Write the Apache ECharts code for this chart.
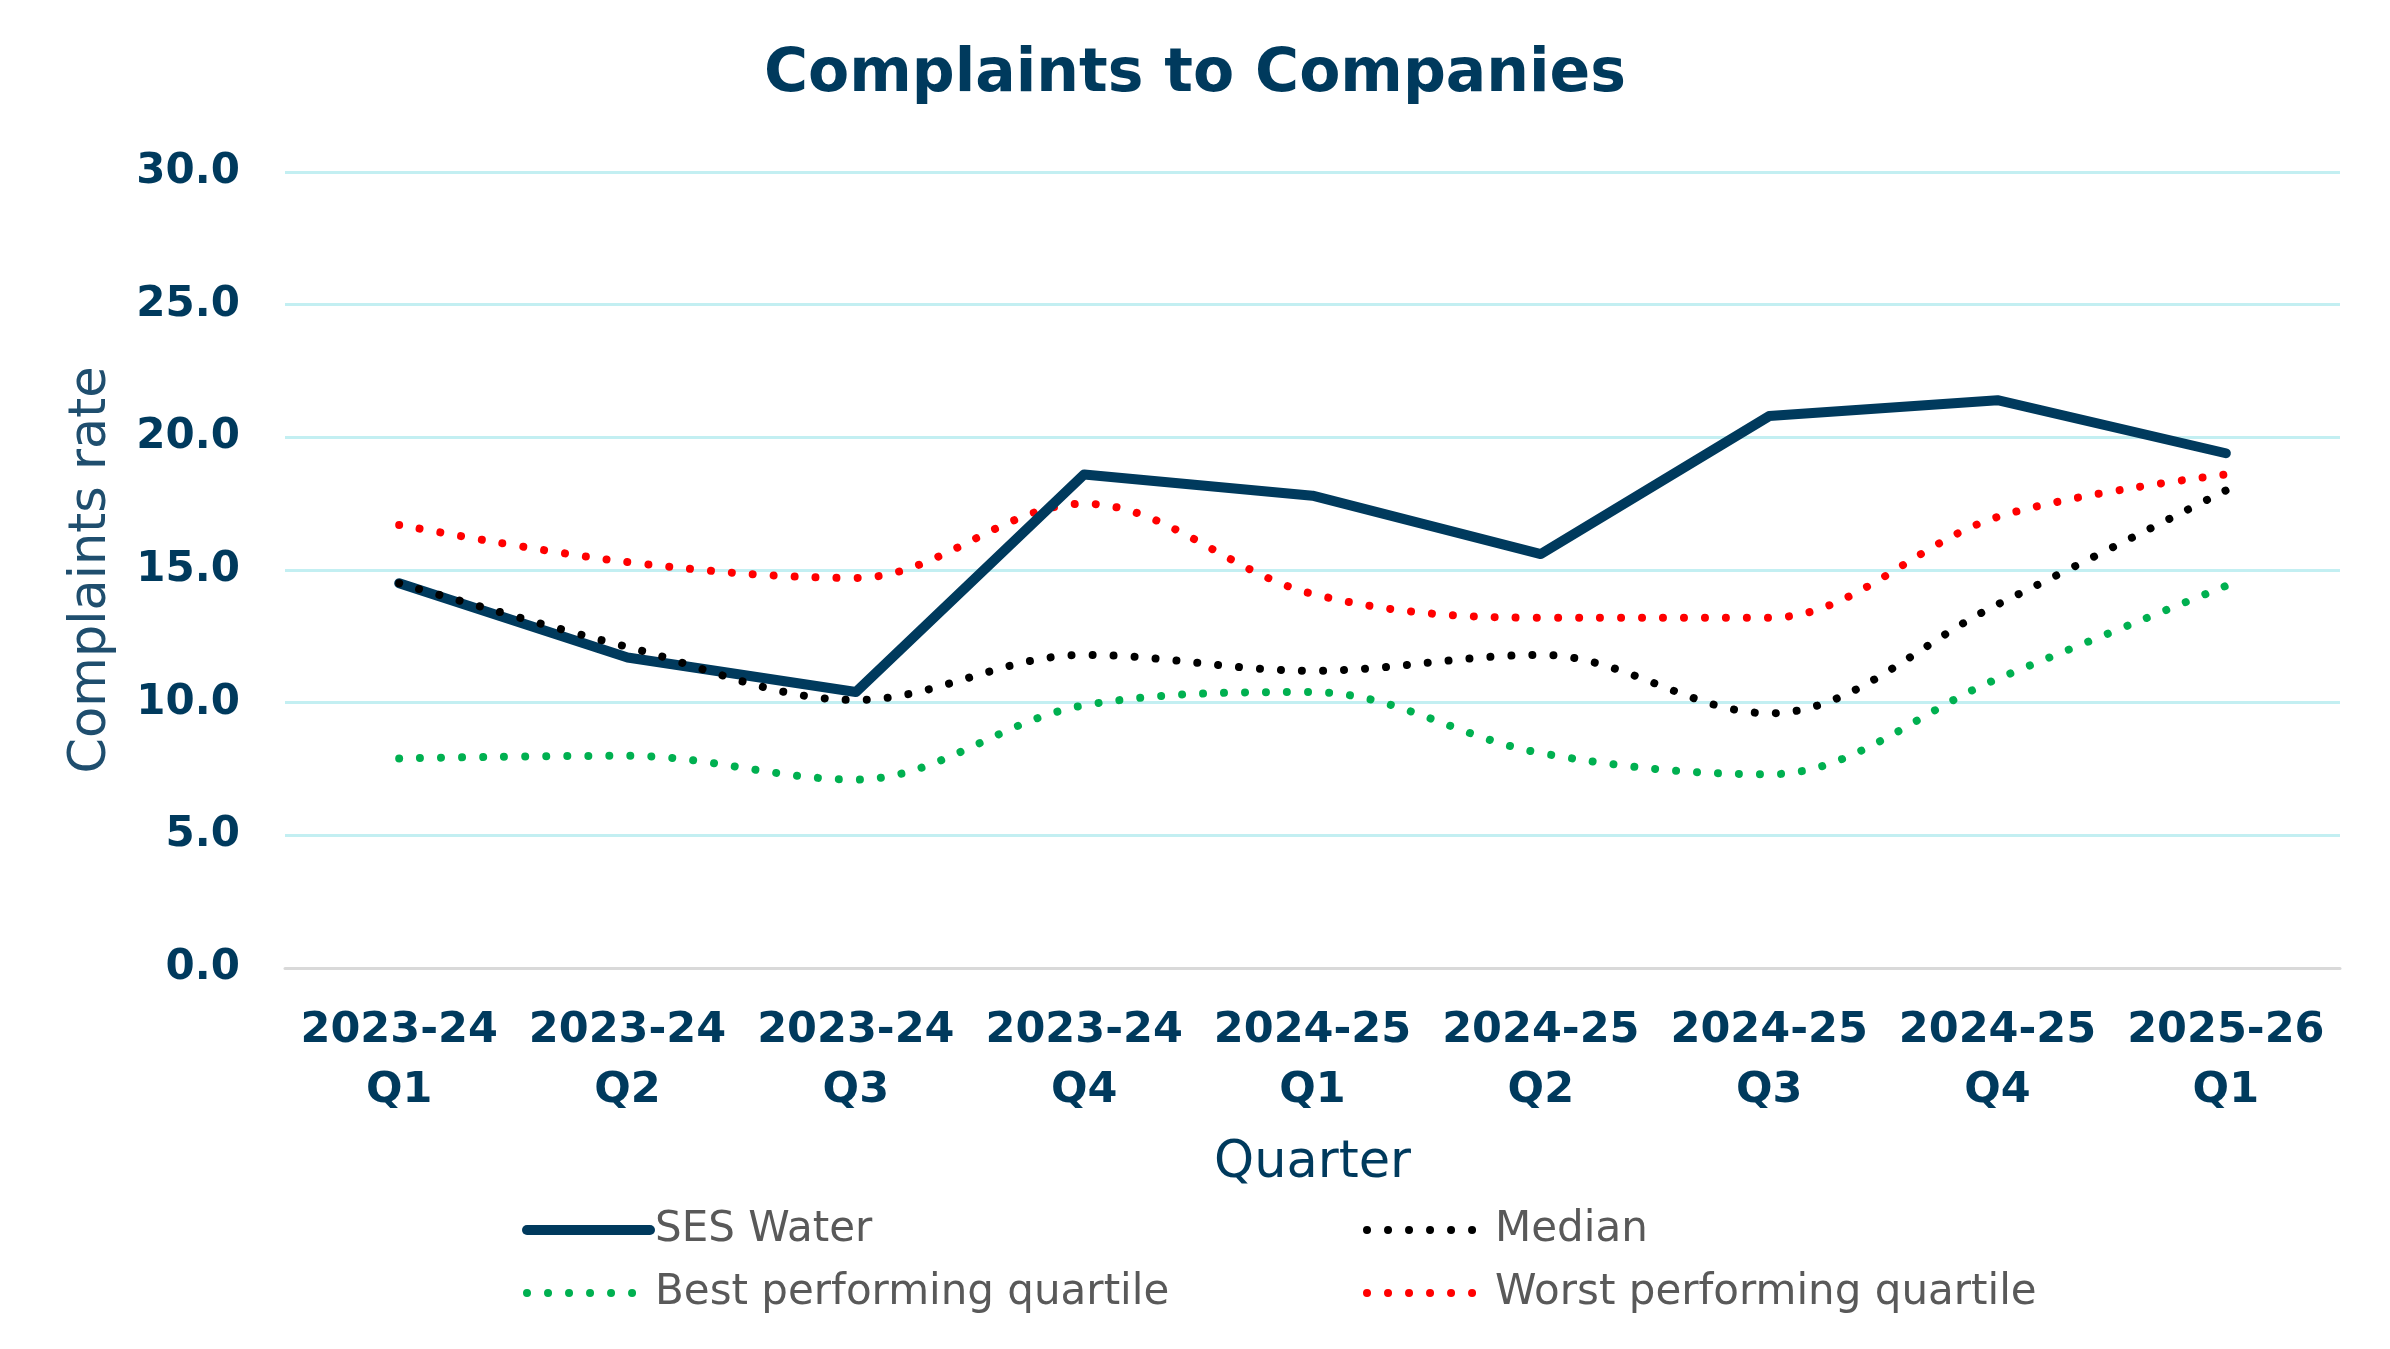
<!DOCTYPE html>
<html>
<head>
<meta charset="utf-8">
<script src="https://cdn.jsdelivr.net/npm/echarts@6/dist/echarts.min.js"></script>
<style>
html,body{margin:0;padding:0;background:#fff;}
#chart{width:2390px;height:1349px;}
</style>
</head>
<body>
<div id="chart"></div>
<script>
const categories = ['2023-24\nQ1','2023-24\nQ2','2023-24\nQ3','2023-24\nQ4','2024-25\nQ1','2024-25\nQ2','2024-25\nQ3','2024-25\nQ4','2025-26\nQ1'];
const sesWater = [14.5, 11.7, 10.4, 18.6, 17.8, 15.6, 20.8, 21.4, 19.4];
const median = [14.5, 12.1, 10.1, 11.8, 11.2, 11.8, 9.6, 13.7, 18.0];
const bestQuartile = [7.9, 8.0, 7.1, 9.9, 10.4, 8.1, 7.3, 10.9, 14.4];
const worstQuartile = [16.7, 15.3, 14.7, 17.5, 14.1, 13.2, 13.2, 17.0, 18.6];
const yTicks = {min: 0, max: 30, interval: 5};

const navy = '#003a5d';
const font = 'DejaVu Sans';
const dotStyle = (color) => ({color: color, width: 8, type: [0.01, 21], cap: 'round'});
const legendItem = (name, width) => ({name: name, itemStyle: {opacity: 0}, lineStyle: {width: width, cap: 'round'}});

const chart = echarts.init(document.getElementById('chart'));
chart.setOption({
  backgroundColor: '#ffffff',
  animation: false,
  title: {
    text: 'Complaints to Companies',
    left: 'center', top: 40,
    textStyle: {fontFamily: font, fontWeight: 'bold', fontSize: 60, color: navy}
  },
  grid: {left: 285, right: 50, top: 172, bottom: 381, containLabel: false},
  legend: [
    {
      orient: 'vertical', left: 517, top: 1202, itemWidth: 123, itemHeight: 20, itemGap: 17,
      data: [legendItem('SES Water', 10), legendItem('Best performing quartile', 8)],
      textStyle: {fontFamily: font, fontSize: 42, color: '#595959', lineHeight: 46}
    },
    {
      orient: 'vertical', left: 1358, top: 1202, itemWidth: 123, itemHeight: 20, itemGap: 17,
      data: [legendItem('Median', 8), legendItem('Worst performing quartile', 8)],
      textStyle: {fontFamily: font, fontSize: 42, color: '#595959', lineHeight: 46}
    }
  ],
  xAxis: {
    type: 'category', data: categories, boundaryGap: true,
    name: 'Quarter', nameLocation: 'middle', nameGap: 170,
    nameTextStyle: {fontFamily: font, fontSize: 51, color: navy},
    axisLine: {show: true, lineStyle: {color: '#d9d9d9', width: 3}},
    axisTick: {show: false},
    axisLabel: {fontFamily: font, fontWeight: 'bold', fontSize: 43, color: navy, lineHeight: 60, margin: 33, interval: 0}
  },
  yAxis: {
    type: 'value', min: yTicks.min, max: yTicks.max, interval: yTicks.interval,
    name: 'Complaints rate', nameLocation: 'middle', nameGap: 168, nameRotate: 90,
    nameTextStyle: {fontFamily: font, fontSize: 51, color: '#1f4e6e'},
    axisLine: {show: false}, axisTick: {show: false},
    axisLabel: {fontFamily: font, fontWeight: 'bold', fontSize: 42, color: navy, margin: 45,
      formatter: v => v.toFixed(1)},
    splitLine: {lineStyle: {color: '#c3eff2', width: 3}}
  },
  series: [
    {name: 'SES Water', type: 'line', data: sesWater, symbol: 'none', smooth: false,
      lineStyle: {color: navy, width: 10, cap: 'round', join: 'round'}, itemStyle: {color: navy}, z: 5},
    {name: 'Median', type: 'line', data: median, symbol: 'none', smooth: 0.35,
      lineStyle: dotStyle('#000000'), itemStyle: {color: '#000000'}, z: 6},
    {name: 'Best performing quartile', type: 'line', data: bestQuartile, symbol: 'none', smooth: 0.35,
      lineStyle: dotStyle('#00b050'), itemStyle: {color: '#00b050'}, z: 4},
    {name: 'Worst performing quartile', type: 'line', data: worstQuartile, symbol: 'none', smooth: 0.35,
      lineStyle: dotStyle('#ff0000'), itemStyle: {color: '#ff0000'}, z: 4}
  ]
});
</script>
</body>
</html>
